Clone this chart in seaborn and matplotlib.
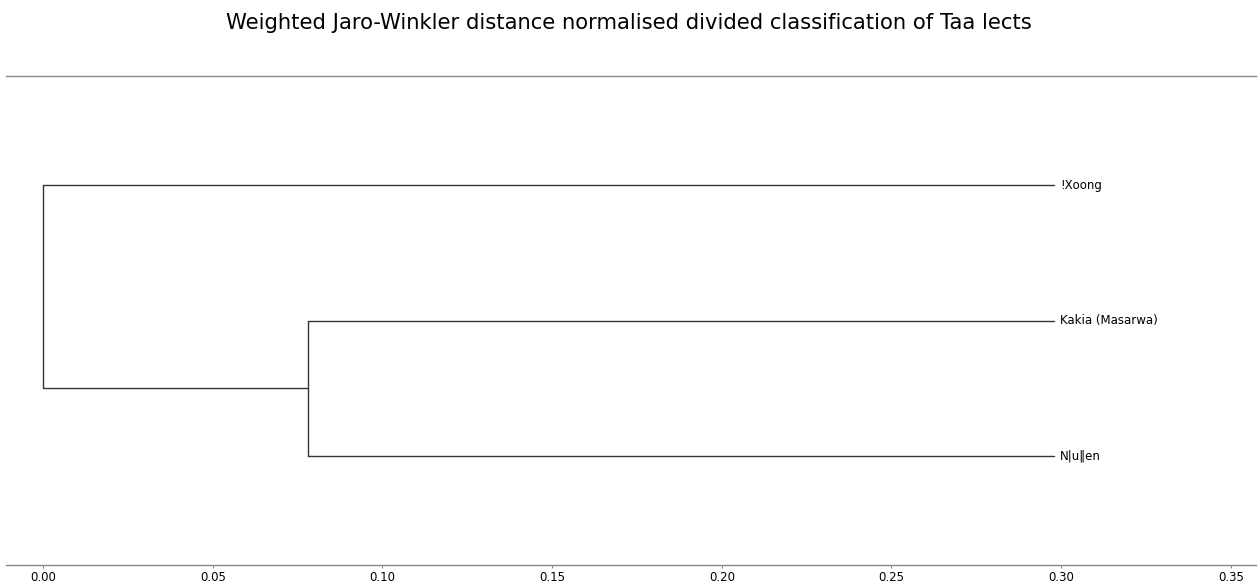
import pandas as pd
import numpy as np
import seaborn as sns
import matplotlib
matplotlib.use('Agg')
import matplotlib.pyplot as plt

# data
leaves = ['!Xoong', 'Kakia (Masarwa)', 'N|u‖en']
leaf_pos = [0, 1, 2]               # top to bottom
leaf_dist = 0.298                  # where the leaves end
# merges: (distance, child a position, child b position)
merge_dist = [0.0, 0.078]
merge_children = [(0, 1.5), (1, 2)]
merge_pos = [0.75, 1.5]

sns.set_theme(style='white')
plt.rcParams['font.family'] = ['DejaVu Sans']

# build segments as a long table for seaborn
rows = []
seg = 0
# leaf branches: from their parent merge to leaf end
parent_of = {0: 0, 1: 1, 2: 1}
for p in leaf_pos:
    d0 = merge_dist[parent_of[p]]
    rows.append((seg, d0, p)); rows.append((seg, leaf_dist, p)); seg += 1
# branch from root to inner cluster
rows.append((seg, merge_dist[0], merge_pos[1])); rows.append((seg, merge_dist[1], merge_pos[1])); seg += 1
# vertical connectors
for d, (a, b) in zip(merge_dist, merge_children):
    rows.append((seg, d, a)); rows.append((seg, d, b)); seg += 1
df = pd.DataFrame(rows, columns=['seg', 'x', 'y'])

fig = plt.figure(figsize=(12.58, 5.82), dpi=100)
ax = fig.add_axes([0.0048, 0.0292, 0.9936, 0.8402])
sns.lineplot(data=df, x='x', y='y', units='seg', estimator=None, sort=False,
             color='#333333', linewidth=1.0, ax=ax, legend=False)

for name, p in zip(leaves, leaf_pos):
    ax.text(leaf_dist + 0.0016, p, name, va='center', ha='left', fontsize=8.5, color='black')

ax.set_xlim(-0.0109, 0.3574)
ax.set_ylim(2.81, -0.81)
ax.set_xticks(np.arange(0, 0.351, 0.05))
ax.set_xticklabels(['%.2f' % t for t in np.arange(0, 0.351, 0.05)])
ax.set_yticks([])
ax.set_xlabel('')
ax.set_ylabel('')
ax.tick_params(axis='x', bottom=True, length=2, width=0.8, color='#888888',
               labelsize=8.5, labelcolor='black', pad=2)
for s in ['left', 'right']:
    ax.spines[s].set_visible(False)
for s in ['top', 'bottom']:
    ax.spines[s].set_color('#888888')
    ax.spines[s].set_linewidth(1.0)

fig.suptitle('Weighted Jaro-Winkler distance normalised divided classification of Taa lects',
             fontsize=15.2, y=0.977, va='top', color='black')
fig.savefig('out.png', dpi=100)
